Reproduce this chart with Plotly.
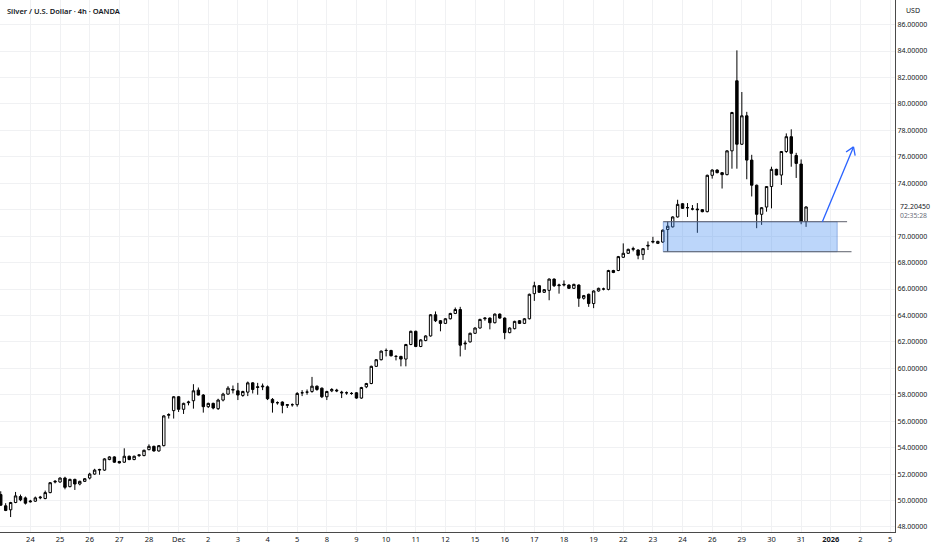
import math

import plotly.graph_objects as go


# 4h 白银 K线 (OANDA XAGUSD)，逐根从图上读出
opens = [
    50.45, 49.6, 49.3, 49.85, 50.3, 50.2, 49.9, 49.95, 50.2, 50.15, 50.6, 51.4,
    51.4, 51.7, 51.05, 51.6, 51.25, 51.45, 51.7, 52.0, 52.3, 52.3, 53.1, 53.3,
    52.95, 52.9, 53.35, 53.1, 53.4, 53.4, 53.85, 54.1, 53.75, 54.15, 56.45, 56.8,
    57.85, 56.9, 57.4, 57.55, 58.35, 57.98, 57.1, 57.35, 56.95, 57.6, 58.05, 58.35,
    58.3, 57.95, 58.2, 58.9, 58.55, 58.6, 58.6, 57.65, 57.4, 57.45, 57.2, 57.25,
    57.25, 58.15, 58.2, 58.25, 58.65, 58.5, 57.85, 58.3, 58.35, 58.2, 58.15, 58.1,
    58.15, 57.75, 58.6, 58.85, 60.15, 60.65, 61.35, 61.35, 60.9, 60.9, 60.7, 61.8,
    62.8, 61.65, 62.1, 62.45, 64.05, 63.6, 63.4, 63.75, 64.15, 64.45, 61.85, 62.0,
    62.65, 63.05, 63.75, 63.8, 63.45, 64.1, 63.8, 62.7, 63.0, 63.6, 63.4, 63.75,
    65.65, 66.25, 65.75, 65.9, 66.75, 66.25, 66.3, 66.3, 66.05, 66.3, 65.3, 65.6,
    64.9, 65.85, 66.0, 65.97, 67.4, 67.4, 68.4, 68.7, 69.0, 68.95, 68.6, 69.25,
    69.55, 69.45, 69.55, 70.5, 70.7, 71.45, 72.45, 72.15, 72.05, 72.05, 72.0, 71.85,
    74.6, 75.0, 74.8, 74.65, 76.45, 81.75, 76.95, 79.1, 75.75, 73.85, 71.65, 72.2,
    73.75, 75.05, 74.62, 76.4, 77.52, 76.1, 75.45, 71.1,
]
highs = [
    50.7, 49.8, 49.9, 50.65, 50.45, 50.3, 50.05, 50.3, 50.35, 50.75, 51.4, 51.55,
    51.75, 51.8, 51.65, 51.65, 51.5, 51.7, 52.1, 52.4, 52.4, 53.2, 53.35, 53.35,
    53.0, 53.95, 53.4, 53.4, 53.45, 53.85, 54.25, 54.15, 54.2, 56.45, 56.6, 57.9,
    57.9, 57.4, 57.55, 58.8, 58.55, 58.05, 57.4, 57.4, 57.7, 58.15, 58.65, 58.7,
    58.9, 58.3, 59.0, 58.95, 58.9, 58.85, 58.7, 57.75, 57.5, 57.5, 57.3, 57.35,
    58.2, 58.35, 58.4, 59.35, 58.7, 58.55, 58.3, 58.5, 58.45, 58.3, 58.25, 58.2,
    58.2, 58.6, 58.9, 60.2, 60.7, 61.35, 61.5, 61.4, 61.0, 60.95, 61.85, 62.85,
    62.85, 62.2, 62.5, 64.1, 64.3, 63.65, 63.8, 64.2, 64.6, 64.65, 62.1, 62.7,
    63.1, 63.75, 63.85, 63.85, 64.15, 64.15, 63.85, 63.1, 63.6, 63.65, 63.8, 65.65,
    66.55, 66.3, 66.0, 66.8, 66.8, 66.4, 66.65, 66.35, 66.4, 66.35, 65.55, 65.65,
    65.9, 66.1, 66.1, 67.45, 67.45, 68.5, 69.45, 69.05, 69.2, 69.0, 69.1, 69.6,
    69.95, 69.65, 70.5, 71.1, 71.5, 72.75, 72.5, 72.5, 72.35, 72.5, 72.05, 74.65,
    75.05, 75.05, 74.85, 76.5, 79.4, 84.05, 80.9, 79.4, 76.15, 73.9, 72.2, 73.75,
    75.25, 75.1, 76.4, 77.77, 78.08, 76.3, 75.8, 72.25,
]
lows = [
    49.6, 49.2, 48.75, 49.8, 49.95, 49.7, 49.85, 49.9, 50.1, 50.1, 50.55, 51.3,
    51.35, 50.85, 51.0, 50.8, 51.15, 51.4, 51.6, 51.95, 51.95, 52.25, 53.05, 52.85,
    52.8, 52.85, 53.05, 53.05, 53.3, 53.35, 53.8, 53.7, 53.7, 54.1, 56.2, 56.2,
    56.7, 56.55, 57.2, 56.95, 57.95, 56.65, 57.0, 56.9, 56.85, 57.5, 58.0, 58.1,
    57.6, 57.85, 57.9, 58.1, 58.0, 58.35, 57.6, 56.65, 57.25, 56.6, 57.0, 57.1,
    57.1, 57.9, 58.0, 58.15, 58.3, 57.75, 57.6, 58.2, 58.2, 57.75, 58.0, 58.0,
    57.7, 57.7, 58.5, 58.8, 60.1, 60.6, 60.9, 60.9, 60.6, 60.15, 60.15, 61.75,
    61.6, 61.6, 62.05, 62.4, 63.5, 62.8, 63.35, 63.7, 64.1, 60.9, 61.4, 61.95,
    62.6, 63.0, 63.6, 62.95, 63.4, 63.75, 62.2, 62.65, 62.95, 63.35, 63.35, 63.7,
    65.1, 65.7, 65.7, 65.15, 66.15, 65.65, 66.2, 66.0, 66.0, 64.65, 65.2, 64.65,
    64.55, 65.8, 65.9, 65.9, 67.2, 67.35, 68.35, 68.65, 68.85, 68.25, 68.2, 68.95,
    69.45, 69.4, 69.5, 68.82, 70.65, 71.4, 72.05, 71.45, 71.95, 70.25, 71.8, 71.8,
    74.35, 74.75, 73.6, 74.6, 75.1, 75.1, 76.9, 74.3, 73.0, 70.6, 70.85, 71.85,
    72.1, 74.6, 73.87, 76.3, 75.25, 74.4, 70.9, 70.7,
]
closes = [
    49.65, 49.25, 49.85, 50.35, 50.05, 49.8, 49.95, 50.2, 50.25, 50.6, 51.35, 51.45,
    51.7, 51.0, 51.6, 51.25, 51.45, 51.65, 52.0, 52.3, 52.35, 53.15, 53.3, 52.9,
    52.85, 53.35, 53.1, 53.35, 53.45, 53.8, 54.1, 53.75, 54.15, 56.4, 56.5, 57.85,
    56.9, 57.35, 57.45, 58.3, 57.98, 57.1, 57.35, 57.0, 57.6, 58.05, 58.5, 58.4,
    57.98, 58.25, 58.9, 58.4, 58.6, 58.65, 57.7, 57.4, 57.4, 57.2, 57.25, 57.25,
    58.1, 58.15, 58.2, 58.65, 58.4, 57.85, 58.25, 58.4, 58.3, 58.15, 58.15, 58.1,
    57.75, 58.55, 58.85, 60.15, 60.65, 61.3, 61.35, 60.95, 60.9, 60.7, 61.8, 62.8,
    61.65, 62.15, 62.45, 64.05, 63.6, 63.4, 63.75, 64.15, 64.45, 61.75, 61.9, 62.65,
    63.05, 63.7, 63.8, 63.45, 64.1, 63.8, 62.7, 63.05, 63.55, 63.4, 63.75, 65.6,
    66.25, 65.75, 65.95, 66.75, 66.25, 66.3, 66.35, 66.05, 66.35, 65.3, 65.5, 64.9,
    65.85, 66.05, 66.0, 67.4, 67.25, 68.45, 68.7, 69.0, 69.05, 68.55, 69.05, 69.3,
    69.6, 69.6, 70.45, 70.75, 71.45, 72.4, 72.1, 72.15, 72.05, 72.0, 71.85, 74.6,
    75.0, 74.8, 74.65, 76.45, 79.35, 76.95, 79.1, 75.75, 73.85, 71.65, 72.15, 73.75,
    75.05, 74.62, 76.4, 77.52, 76.26, 75.5, 71.1, 72.2045,
]

# 日期标签，每个交易日 6 根 4h K线
day_labels = [
    '21', '24', '25', '26', '27', '28', 'Dec', '2', '3', '4', '5', '8', '9', '10',
    '11', '12', '15', '16', '17', '18', '19', '22', '23', '24', '26', '29', '30',
    '31', '<b>2026</b>', '2', '5',
]
price_ticks = list(range(48, 88, 2))

last_price = 72.2045
countdown = '02:35:28'

# 画线工具: 需求区 和 向上箭头 (K线序号 / 价格)
zone_low, zone_high = 68.82, 71.09
zone_start, zone_end = 134.1, 169.3
zone_top_line_end, zone_bottom_line_end = 171.3, 172.2
arrow_start = (166.3, 71.09)
arrow_end = (172.6, 76.75)

x_range = [-0.15, 181.0]
y_range = [47.62, 87.86]
plot_w, plot_h = 895, 532

FONT = 'Noto Sans'

bars = list(range(len(closes)))

fig = go.Figure()

# 蜡烛图 黑白风格
fig.add_trace(
    go.Candlestick(
        x=bars, open=opens, high=highs, low=lows, close=closes,
        increasing=dict(fillcolor='white', line=dict(color='black', width=1)),
        decreasing=dict(fillcolor='black', line=dict(color='black', width=1)),
        whiskerwidth=0, showlegend=False, hoverinfo='skip',
    )
)

# 需求区 半透明矩形 (盖住网格) + 上下边线
fig.add_shape(type='rect', x0=zone_start, x1=zone_end, y0=zone_low, y1=zone_high,
              fillcolor='rgba(70,140,240,0.36)', line=dict(color='rgba(60,110,200,0.45)', width=1),
              layer='above')
fig.add_shape(type='line', x0=zone_start, x1=zone_top_line_end, y0=zone_high, y1=zone_high,
              line=dict(color='#5d606b', width=1))
fig.add_shape(type='line', x0=zone_start, x1=zone_bottom_line_end, y0=zone_low, y1=zone_low,
              line=dict(color='#5d606b', width=1))

# 箭头: 线 + V 形箭头 (按像素比例计算)
sx = plot_w / (x_range[1] - x_range[0])
sy = plot_h / (y_range[1] - y_range[0])
dx = (arrow_end[0] - arrow_start[0]) * sx
dy = (arrow_end[1] - arrow_start[1]) * sy
length = math.hypot(dx, dy)
bx, by = -dx / length, -dy / length
head = []
for ang in (math.radians(33), math.radians(-33)):
    rx = bx * math.cos(ang) - by * math.sin(ang)
    ry = bx * math.sin(ang) + by * math.cos(ang)
    head.append((arrow_end[0] + rx * 9 / sx, arrow_end[1] + ry * 9 / sy))
fig.add_shape(type='line', x0=arrow_start[0], y0=arrow_start[1], x1=arrow_end[0], y1=arrow_end[1],
              line=dict(color='#2962ff', width=1.3))
for hx, hy in head:
    fig.add_shape(type='line', x0=hx, y0=hy, x1=arrow_end[0], y1=arrow_end[1],
                  line=dict(color='#2962ff', width=1.3))

# 标题 / 单位 / 最新价
fig.add_annotation(text='Silver / U.S. Dollar · 4h · OANDA', xref='paper', yref='paper',
                   x=5 / plot_w, y=1 - 11 / plot_h, xanchor='left', yanchor='middle', showarrow=False,
                   font=dict(size=7.5, color='#131722', family=FONT, weight=600))
fig.add_annotation(text='USD', xref='paper', yref='paper', x=1 + 9 / plot_w, y=1 - 11 / plot_h,
                   xanchor='left', yanchor='middle', showarrow=False,
                   font=dict(size=7, color='#131722', family=FONT))
fig.add_annotation(text=f'{last_price:.5f}', xref='paper', yref='y', x=1 + 3 / plot_w, y=last_price,
                   xanchor='left', yanchor='middle', showarrow=False,
                   font=dict(size=7, color='#131722', family=FONT))
fig.add_annotation(text=countdown, xref='paper', yref='y', x=1 + 3 / plot_w, y=last_price, yshift=-9,
                   xanchor='left', yanchor='middle', showarrow=False,
                   font=dict(size=6.8, color='#6a6d78', family=FONT))

fig.update_xaxes(
    range=x_range, tickvals=[6 * i for i in range(len(day_labels))], ticktext=day_labels,
    showgrid=True, gridcolor='#f0f1f3', gridwidth=1, zeroline=False,
    showline=True, linecolor='#4a4a4a', linewidth=1, ticks='',
    tickfont=dict(size=7.5, color='#131722', family=FONT),
    rangeslider_visible=False, fixedrange=True,
)
fig.update_yaxes(
    range=y_range, side='right', tickvals=price_ticks,
    ticktext=['' if v == 72 else f'{v:.5f}' for v in price_ticks],
    showgrid=True, gridcolor='#f0f1f3', gridwidth=1, zeroline=False,
    showline=True, linecolor='#4a4a4a', linewidth=1, ticks='',
    tickfont=dict(size=7, color='#131722', family=FONT),
    fixedrange=True,
)
fig.update_layout(
    width=932, height=550,
    margin=dict(l=0, r=37, t=0, b=18),
    paper_bgcolor='white', plot_bgcolor='white',
    showlegend=False,
)

# 去掉页面默认边距，让图贴齐窗口；不显示工具栏
fig.write_html("out.html", config={'displayModeBar': False},
               post_script="document.body.style.margin='0';")
